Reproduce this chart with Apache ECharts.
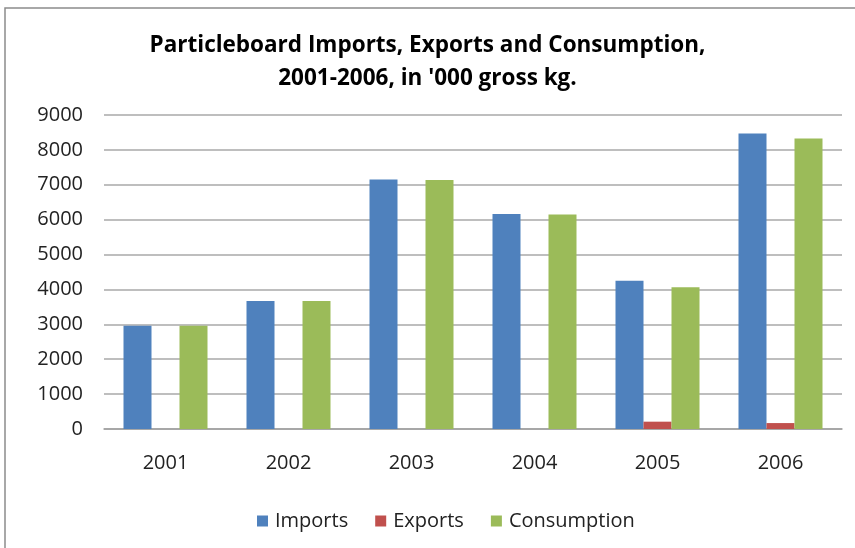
<!DOCTYPE html>
<html><head><meta charset="utf-8">
<script src="https://cdn.jsdelivr.net/npm/echarts@6/dist/echarts.min.js"></script>
<style>html,body{margin:0;padding:0;background:#fff}#c{width:855px;height:548px}</style>
</head><body><div id="c"></div>
<script>
const years = ['2001','2002','2003','2004','2005','2006'];
const imports = [2960, 3670, 7150, 6160, 4250, 8470];
const exports_ = [0, 0, 0, 0, 210, 170];
const consumption = [2960, 3670, 7140, 6150, 4060, 8330];
const yTicks = [0,1000,2000,3000,4000,5000,6000,7000,8000,9000];

const chart = echarts.init(document.getElementById('c'));
const font = '"Open Sans", sans-serif';
chart.setOption({
  animation: false,
  graphic: [{type:'rect', shape:{x:5,y:8,width:900,height:600}, style:{fill:'none', stroke:'#8c8c8c', lineWidth:1.5}}],
  title: {
    text: "Particleboard Imports, Exports and Consumption,\n2001-2006, in '000 gross kg.",
    left: 'center', top: 24,
    textStyle: {fontFamily: font, fontSize: 22.5, fontWeight: 'bold', color: '#000', lineHeight: 33}
  },
  legend: {
    top: 506, left: 252, itemWidth: 11, itemHeight: 11, itemGap: 27,
    icon: 'rect',
    textStyle: {fontFamily: font, fontSize: 20, color: '#222', padding: [0, 0, 0, 2]},
    data: ['Imports','Exports','Consumption']
  },
  grid: {left: 104, right: 13, top: 115, bottom: 119},
  xAxis: {
    type: 'category', data: years,
    axisTick: {show: false},
    axisLine: {lineStyle: {color: '#a0a0a0', width: 1.5}},
    axisLabel: {fontFamily: font, fontSize: 20, color: '#222', margin: 24}
  },
  yAxis: {
    type: 'value', min: 0, max: 9000, interval: 1000,
    axisLine: {show: false}, axisTick: {show: false},
    splitLine: {lineStyle: {color: '#a8a8a8', width: 1.5}},
    axisLabel: {fontFamily: font, fontSize: 20, color: '#222', margin: 21,
      formatter: v => yTicks.includes(v) ? String(v) : ''}
  },
  series: [
    {name:'Imports', type:'bar', data: imports, barWidth: 28, barGap: '0%', itemStyle:{color:'#4F81BD'}},
    {name:'Exports', type:'bar', data: exports_, barWidth: 28, barGap: '0%', itemStyle:{color:'#C0504D'}},
    {name:'Consumption', type:'bar', data: consumption, barWidth: 28, barGap: '0%', itemStyle:{color:'#9BBB59'}}
  ]
});
</script></body></html>
